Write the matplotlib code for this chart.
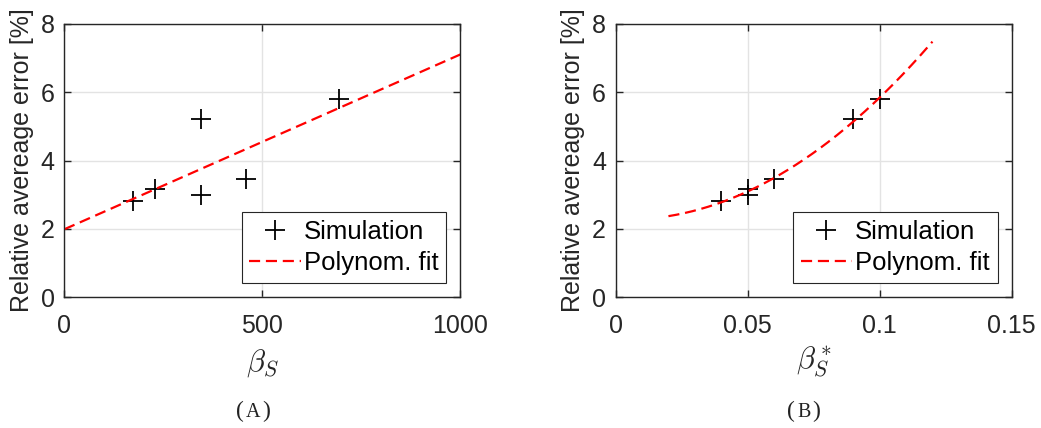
import numpy as np
import matplotlib
matplotlib.use("Agg")
import matplotlib.pyplot as plt

# --- data ---
beta_s = [174, 230, 346, 346, 460, 693]
beta_s_star = [0.04, 0.05, 0.05, 0.06, 0.09, 0.10]
rel_error = [2.81, 3.16, 5.22, 2.99, 3.46, 5.79]
# error values in panel B, in the same order as beta_s_star
rel_error_star = [2.81, 3.16, 2.99, 3.46, 5.22, 5.79]

x_ticks_a = [0, 500, 1000]
x_ticks_b = [0, 0.05, 0.1, 0.15]
x_ticklabels_b = ["0", "0.05", "0.1", "0.15"]
y_ticks = [0, 2, 4, 6, 8]

plt.rcParams["font.family"] = ["Liberation Sans", "DejaVu Sans"]
plt.rcParams["mathtext.fontset"] = "cm"

DARK = "#262626"
GRID = "#e3e3e3"


def style_axes(ax):
    for sp in ax.spines.values():
        sp.set_color(DARK)
        sp.set_linewidth(1.0)
    ax.tick_params(direction="in", top=True, right=True, length=5,
                   width=1.0, color=DARK, labelcolor=DARK, labelsize=18)
    ax.tick_params(axis="x", pad=12)
    ax.tick_params(axis="y", pad=7)
    ax.grid(True, color=GRID, linewidth=1.0)
    ax.set_axisbelow(True)
    ax.set_ylim(0, 8)
    ax.set_yticks(y_ticks)
    ax.set_ylabel("Relative avereage error [%]", fontsize=18, color=DARK,
                  labelpad=5)


def caption(x, letter):
    # "(A)" with a small-caps looking letter
    kw = dict(family="Liberation Serif", va="baseline", color="#222222")
    fig.text(x - 0.0085, 0.025, "(", fontsize=17, ha="right", **kw)
    fig.text(x, 0.025, letter, fontsize=14.5, ha="center", **kw)
    fig.text(x + 0.0085, 0.025, ")", fontsize=17, ha="left", **kw)


fig = plt.figure(figsize=(10.41, 4.28), dpi=100)
ax_a = fig.add_axes([0.0618, 0.306, 0.3804, 0.638])
ax_b = fig.add_axes([0.5914, 0.306, 0.3804, 0.638])

# --- panel A: linear fit ---
coef_a = np.polyfit(beta_s, rel_error, 1)
xa = np.linspace(0, 1000, 200)
ax_a.plot(beta_s, rel_error, "+", color="black", markersize=15,
          markeredgewidth=1.3, label="Simulation")
ax_a.plot(xa, np.polyval(coef_a, xa), color="red", linewidth=1.6,
          dashes=(5, 2.6), label="Polynom. fit")
style_axes(ax_a)
ax_a.set_xlim(0, 1000)
ax_a.set_xticks(x_ticks_a)
ax_a.set_xlabel(r"$\beta_S$", fontsize=22, color=DARK, labelpad=7)

# --- panel B: quadratic fit ---
coef_b = np.polyfit(beta_s_star, rel_error_star, 2)
xb = np.linspace(0.02, 0.12, 200)
ax_b.plot(beta_s_star, rel_error_star, "+", color="black", markersize=15,
          markeredgewidth=1.3, label="Simulation")
ax_b.plot(xb, np.polyval(coef_b, xb), color="red", linewidth=1.6,
          dashes=(5, 2.6), label="Polynom. fit")
style_axes(ax_b)
ax_b.set_xlim(0, 0.15)
ax_b.set_xticks(x_ticks_b)
ax_b.set_xticklabels(x_ticklabels_b)
ax_b.set_xlabel(r"$\beta_S^*$", fontsize=22, color=DARK, labelpad=5)

for ax in (ax_a, ax_b):
    leg = ax.legend(loc="lower right", fontsize=18.5, frameon=True,
                    fancybox=False, edgecolor=DARK, framealpha=1,
                    borderpad=0.3, labelspacing=0.28, handlelength=2.0,
                    handletextpad=0.12, borderaxespad=0.55)
    leg.get_frame().set_linewidth(0.8)

caption(0.243, "A")
caption(0.772, "B")

fig.savefig("out.png", dpi=100)
